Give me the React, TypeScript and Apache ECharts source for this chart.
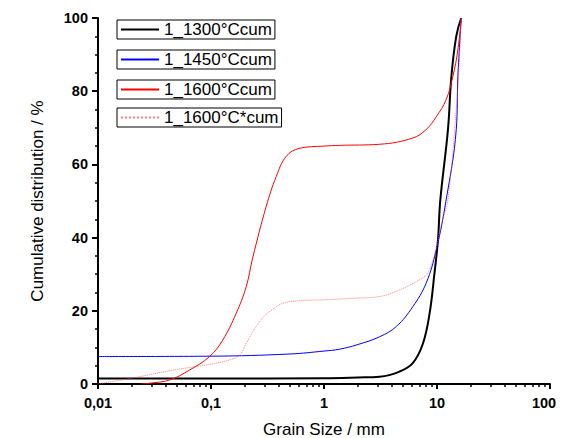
import React, { useEffect, useRef } from "react";
import * as echarts from "echarts";

const seriesNames = ["1_1300°Ccum", "1_1450°Ccum", "1_1600°Ccum", "1_1600°C*cum"];

const x1300 = [0.01, 0.1, 1, 2, 3.1, 4.66, 6.1, 7.5, 8.6, 9.5, 10.2, 10.7, 12.5, 13.4, 14.8, 16.4];
const y1300 = [1.5, 1.5, 1.6, 1.8, 2.0, 3.4, 5.7, 11, 19.3, 30.3, 39.4, 50.3, 69.5, 84, 95, 100];

const x1450 = [0.01, 0.1, 0.5, 1, 1.37, 2, 3.1, 4.36, 6.1, 8.0, 9.84, 12.05, 14.8, 15.3, 16.4];
const y1450 = [7.5, 7.6, 8.2, 9.0, 9.5, 10.8, 12.9, 15.7, 21.1, 27.5, 36.6, 50.3, 69.5, 84, 100];

const x1600 = [0.024, 0.0286, 0.043, 0.0645, 0.097, 0.127, 0.167, 0.205, 0.234, 0.308, 0.378, 0.463, 0.607, 1.0, 1.37, 3.1, 6.1, 8.0, 9.84, 12.05, 13.8, 15.3, 16.4];
const y1600 = [0, 0.2, 1.1, 3.8, 7.5, 12, 19.3, 26.6, 34.5, 48.5, 56.7, 62.2, 64.4, 65.0, 65.2, 65.5, 67.2, 69.5, 73, 77.7, 84, 91.3, 100];

const x1600s = [0.01, 0.0233, 0.046, 0.0907, 0.146, 0.179, 0.205, 0.251, 0.33, 0.495, 1.0, 1.37, 2, 3.1, 4.66, 6.55, 8.0, 9.2, 10.2, 11.2, 12.5, 14.8, 15.8, 16.4];
const y1600s = [0, 2, 3.8, 5.2, 6.6, 7.9, 11.1, 15.7, 19.8, 22.5, 23.0, 23.2, 23.5, 23.9, 25.7, 28, 29.8, 33.9, 39.4, 44.8, 50.3, 75, 88.6, 100];

const xMinorTicks = [0.02, 0.03, 0.04, 0.05, 0.06, 0.07, 0.08, 0.09, 0.2, 0.3, 0.4, 0.5, 0.6, 0.7, 0.8, 0.9, 2, 3, 4, 5, 6, 7, 8, 9, 20, 30, 40, 50, 60, 70, 80, 90];

const FONT = "'Liberation Sans', Arial, sans-serif";

const zip = (xs: number[], ys: number[]) => xs.map((x, i) => [x, ys[i]]);

export default function App() {
  const ref = useRef<HTMLDivElement>(null);
  useEffect(() => {
    if (!ref.current) return;
    const chart = echarts.init(ref.current, null, { renderer: "svg" });
    const fmt = (v: number) => {
      const n = Number(v.toPrecision(3));
      const s = String(n).replace(".", ",");
      return n >= 100 ? "{e|" + s + "}" : s;
    };
    const legendTops = [12, 42, 72, 100];
    const colors = ["#000000", "#0000ff", "#ff0000", "rgba(255,80,80,0.75)"];
    const widths = [2, 1, 1, 1];
    const types = ["solid", "solid", "solid", "dotted"];
    const datas = [zip(x1300, y1300), zip(x1450, y1450), zip(x1600, y1600), zip(x1600s, y1600s)];
    chart.setOption({
      animation: false,
      backgroundColor: "#ffffff",
      grid: { left: 90, right: 15, top: 10, bottom: 54, containLabel: false, outerBoundsMode: "none" },
      legend: seriesNames.map((n, i) => ({
        data: [n],
        left: 109,
        top: legendTops[i],
        orient: "vertical",
        borderColor: "#000",
        borderWidth: 1,
        padding: [1, 3, 1, 3],
        itemWidth: 38,
        itemHeight: 14,
        itemGap: 0,
        itemStyle: { opacity: 0 },
        textStyle: { fontFamily: FONT, fontSize: 17, color: "#000" },
        selectedMode: false,
      })),
      xAxis: [
        {
          type: "log",
          logBase: 10,
          min: 0.01,
          max: 100,
          name: "Grain Size / mm",
          nameLocation: "middle",
          nameGap: 37,
          nameTextStyle: { fontFamily: FONT, fontSize: 17, color: "#000" },
          axisLine: { show: true, lineStyle: { color: "#000", width: 2 } },
          axisTick: { show: true, inside: false, length: 5, lineStyle: { color: "#000", width: 2 } },
          axisLabel: {
            fontFamily: FONT,
            fontSize: 14.5,
            fontWeight: "bold",
            color: "#000",
            margin: 11,
            formatter: fmt,
            rich: {
              e: { fontFamily: FONT, fontSize: 14.5, fontWeight: "bold", color: "#000", padding: [0, 12, 0, 0] },
            },
          },
          splitLine: { show: false },
          minorTick: { show: false },
        },
        {
          type: "log",
          logBase: 10,
          min: 0.01,
          max: 100,
          position: "bottom",
          axisLine: { show: false },
          axisTick: { show: true, inside: false, length: 3, customValues: xMinorTicks, lineStyle: { color: "#000", width: 1.5 } },
          axisLabel: { show: false },
          splitLine: { show: false },
        },
      ],
      yAxis: {
        type: "value",
        min: 0,
        max: 100,
        interval: 20,
        name: "Cumulative distribution / %",
        nameLocation: "middle",
        nameGap: 52,
        nameTextStyle: { fontFamily: FONT, fontSize: 17, color: "#000" },
        axisLine: { show: true, lineStyle: { color: "#000", width: 2 } },
        axisTick: { show: true, inside: false, length: 6, lineStyle: { color: "#000", width: 2 } },
        minorTick: { show: true, splitNumber: 4, length: 3, lineStyle: { color: "#000", width: 1.5 } },
        axisLabel: { fontFamily: FONT, fontSize: 14.5, fontWeight: "bold", color: "#000", margin: 10 },
        splitLine: { show: false },
      },
      series: seriesNames.map((n, i) => ({
        name: n,
        type: "line",
        xAxisIndex: 0,
        data: datas[i],
        symbol: "none",
        smooth: 0.4,
        color: colors[i],
        lineStyle: { color: colors[i], width: widths[i], type: types[i] },
      })),
    });
    return () => chart.dispose();
  }, []);
  return <div ref={ref} style={{ width: 557, height: 430 }} />;
}
